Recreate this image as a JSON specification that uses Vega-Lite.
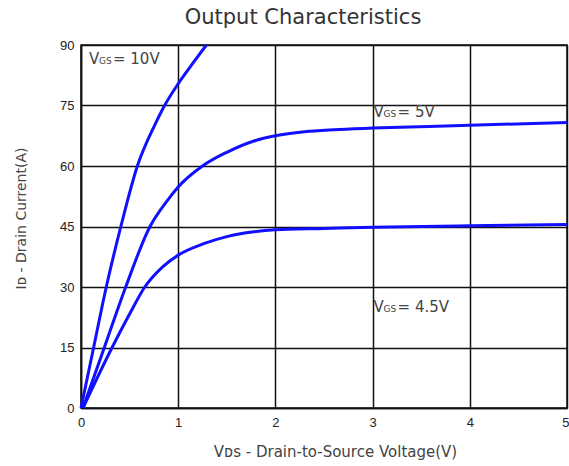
{
  "$schema": "https://vega.github.io/schema/vega-lite/v6.json",
  "width": 486,
  "height": 363,
  "autosize": "none",
  "padding": {"left": 81, "top": 45, "right": 2, "bottom": 58},
  "background": "white",
  "config": {
    "view": {"stroke": "#111", "strokeWidth": 1.5},
    "font": "Liberation Sans"
  },
  "title": {
    "text": "Output Characteristics",
    "fontSize": 21,
    "font": "DejaVu Sans",
    "fontWeight": "normal",
    "color": "#333",
    "dx": -21,
    "offset": 11
  },
  "datasets": {
    "curves": [
      {"vgs": "10V", "vds": 0, "id": 0},
      {"vgs": "10V", "vds": 0.13, "id": 15},
      {"vgs": "10V", "vds": 0.26, "id": 30},
      {"vgs": "10V", "vds": 0.41, "id": 45},
      {"vgs": "10V", "vds": 0.58, "id": 60},
      {"vgs": "10V", "vds": 0.76, "id": 70.2},
      {"vgs": "10V", "vds": 0.86, "id": 75},
      {"vgs": "10V", "vds": 1.0, "id": 80.4},
      {"vgs": "10V", "vds": 1.17, "id": 86.1},
      {"vgs": "10V", "vds": 1.29, "id": 90},
      {"vgs": "5V", "vds": 0.02, "id": 0},
      {"vgs": "5V", "vds": 0.24, "id": 15},
      {"vgs": "5V", "vds": 0.46, "id": 30},
      {"vgs": "5V", "vds": 0.71, "id": 45},
      {"vgs": "5V", "vds": 0.89, "id": 51.5},
      {"vgs": "5V", "vds": 1.0, "id": 54.8},
      {"vgs": "5V", "vds": 1.25, "id": 60},
      {"vgs": "5V", "vds": 1.5, "id": 63.4},
      {"vgs": "5V", "vds": 1.78, "id": 66.2},
      {"vgs": "5V", "vds": 2.0, "id": 67.5},
      {"vgs": "5V", "vds": 2.3, "id": 68.5},
      {"vgs": "5V", "vds": 2.6, "id": 69.0},
      {"vgs": "5V", "vds": 3.0, "id": 69.4},
      {"vgs": "5V", "vds": 4.0, "id": 70.1},
      {"vgs": "5V", "vds": 5.0, "id": 70.8},
      {"vgs": "4.5V", "vds": 0.02, "id": 0},
      {"vgs": "4.5V", "vds": 0.32, "id": 15},
      {"vgs": "4.5V", "vds": 0.5, "id": 23.3},
      {"vgs": "4.5V", "vds": 0.656, "id": 30},
      {"vgs": "4.5V", "vds": 0.84, "id": 35},
      {"vgs": "4.5V", "vds": 1.0, "id": 37.9},
      {"vgs": "4.5V", "vds": 1.27, "id": 40.8},
      {"vgs": "4.5V", "vds": 1.5, "id": 42.5},
      {"vgs": "4.5V", "vds": 1.78, "id": 43.7},
      {"vgs": "4.5V", "vds": 2.0, "id": 44.2},
      {"vgs": "4.5V", "vds": 2.5, "id": 44.5},
      {"vgs": "4.5V", "vds": 3.0, "id": 44.8},
      {"vgs": "4.5V", "vds": 4.0, "id": 45.2},
      {"vgs": "4.5V", "vds": 5.0, "id": 45.5}
    ],
    "labels": [
      {"vds": 0.082, "id": 86.6, "main": "V", "sub": "GS", "rest": "= 10V"},
      {"vds": 3.01, "id": 73.5, "main": "V", "sub": "GS", "rest": "= 5V"},
      {"vds": 3.01, "id": 25.1, "main": "V", "sub": "GS", "rest": "= 4.5V"}
    ]
  },
  "layer": [
    {
      "data": {"name": "curves"},
      "mark": {"type": "line", "interpolate": "monotone", "strokeWidth": 3, "color": "#1010ff"},
      "encoding": {
        "x": {
          "field": "vds", "type": "quantitative",
          "scale": {"domain": [0, 5], "nice": false},
          "axis": {
            "values": [0, 1, 2, 3, 4, 5],
            "format": "d",
            "grid": true, "gridColor": "#111", "gridWidth": 1.5, "gridOpacity": 1,
            "domain": true, "domainColor": "#111", "domainWidth": 1.5,
            "ticks": false, "labelPadding": 8, "labelFontSize": 13, "labelColor": "#222",
            "labelFlush": false,
            "labelAlign": {"condition": {"test": "datum.value == 5", "value": "right"}, "value": "center"},
            "labelOffset": {"condition": {"test": "datum.value == 5", "value": 2}, "value": 0},
            "title": "Vᴅꜱ - Drain-to-Source Voltage(V)",
            "titleFont": "DejaVu Sans",
            "titleFontSize": 15, "titleFontWeight": "normal", "titleColor": "#444",
            "titlePadding": 15, "titleX": 254
          }
        },
        "y": {
          "field": "id", "type": "quantitative",
          "scale": {"domain": [0, 90], "nice": false},
          "axis": {
            "values": [0, 15, 30, 45, 60, 75, 90],
            "grid": true, "gridColor": "#111", "gridWidth": 1.5, "gridOpacity": 1,
            "domain": true, "domainColor": "#111", "domainWidth": 1.5,
            "ticks": false, "labelPadding": 7, "labelFontSize": 13, "labelColor": "#222",
            "labelFlush": false,
            "title": "Iᴅ - Drain Current(A)",
            "titleFont": "DejaVu Sans",
            "titleFontSize": 14, "titleFontWeight": "normal", "titleColor": "#444",
            "titlePadding": 31, "titleY": 173
          }
        },
        "detail": {"field": "vgs"}
      }
    },
    {
      "data": {"name": "labels"},
      "mark": {"type": "text", "align": "left", "baseline": "middle", "fontSize": 15, "font": "DejaVu Sans", "color": "#444"},
      "encoding": {
        "x": {"field": "vds", "type": "quantitative"},
        "y": {"field": "id", "type": "quantitative"},
        "text": {"field": "main"}
      }
    },
    {
      "data": {"name": "labels"},
      "mark": {"type": "text", "align": "left", "baseline": "middle", "fontSize": 9, "font": "DejaVu Sans", "color": "#444", "dx": 10, "dy": 2},
      "encoding": {
        "x": {"field": "vds", "type": "quantitative"},
        "y": {"field": "id", "type": "quantitative"},
        "text": {"field": "sub"}
      }
    },
    {
      "data": {"name": "labels"},
      "mark": {"type": "text", "align": "left", "baseline": "middle", "fontSize": 15, "font": "DejaVu Sans", "color": "#444", "dx": 24},
      "encoding": {
        "x": {"field": "vds", "type": "quantitative"},
        "y": {"field": "id", "type": "quantitative"},
        "text": {"field": "rest"}
      }
    }
  ]
}
